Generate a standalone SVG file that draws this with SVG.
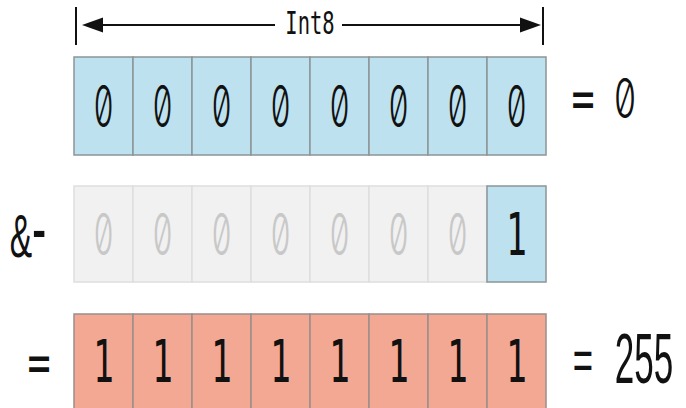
<svg xmlns="http://www.w3.org/2000/svg" width="686" height="408" viewBox="0 0 686 408">
<style>
.blue{fill:#bde1ee;stroke:#8c9598;stroke-width:1.5}
.gray{fill:#f1f1f1;stroke:#dedede;stroke-width:1.5}
.red{fill:#f3a893;stroke:#9a8f8c;stroke-width:1.5}
.dig{font-family:"DejaVu Sans Mono",monospace;font-size:58px;text-anchor:middle;fill:#111}
.zero{font-family:Inter,"DejaVu Sans Mono",monospace;font-size:58px;font-weight:300;text-anchor:middle;fill:#111;font-variant-numeric:slashed-zero;font-feature-settings:"zero" 1}
.dim{fill:#c8c8c8}
.lbl{font-family:"DejaVu Sans Mono",monospace;text-anchor:middle;fill:#111}
.sans{font-family:"Liberation Sans",Arial,sans-serif;text-anchor:middle;fill:#111}
.ln{stroke:#111;stroke-width:2;fill:none}
</style>
<g id="connectors">
<line class="ln" x1="76" y1="7" x2="76" y2="45"/>
<line class="ln" x1="543" y1="7" x2="543" y2="45"/>
<path d="M102,25 L275,25" class="ln"/>
<path d="M342,25 L520,25" class="ln"/>
<path d="M82,25 L103,17.5 L103,32.5 z" fill="#111"/>
<path d="M541,25 L520,17.5 L520,32.5 z" fill="#111"/>
</g>
<g id="label-int8">
<text class="lbl" style="font-size:32px" transform="translate(310,34) scale(0.64,1)">Int8</text>
</g>
<g id="row1">
<rect class="blue" x="74" y="57" width="59" height="98"/>
<rect class="blue" x="133" y="57" width="59" height="98"/>
<rect class="blue" x="192" y="57" width="59" height="98"/>
<rect class="blue" x="251" y="57" width="59" height="98"/>
<rect class="blue" x="310" y="57" width="59" height="98"/>
<rect class="blue" x="369" y="57" width="59" height="98"/>
<rect class="blue" x="428" y="57" width="59" height="98"/>
<rect class="blue" x="487" y="57" width="59" height="98"/>
<text class="zero" transform="translate(103.5,127) scale(0.55,1)">0</text>
<text class="zero" transform="translate(162.5,127) scale(0.55,1)">0</text>
<text class="zero" transform="translate(221.5,127) scale(0.55,1)">0</text>
<text class="zero" transform="translate(280.5,127) scale(0.55,1)">0</text>
<text class="zero" transform="translate(339.5,127) scale(0.55,1)">0</text>
<text class="zero" transform="translate(398.5,127) scale(0.55,1)">0</text>
<text class="zero" transform="translate(457.5,127) scale(0.55,1)">0</text>
<text class="zero" transform="translate(516.5,127) scale(0.55,1)">0</text>
</g>
<g id="result1">
<text class="lbl" style="font-size:55px" transform="translate(583,118) scale(0.7,1)">=</text>
<text class="zero" style="font-size:55px" transform="translate(625,118) scale(0.65,1)">0</text>
</g>
<g id="op">
<text class="sans" style="font-size:61px" transform="translate(28,257) scale(0.55,1)">&amp;<tspan dy="-2" style="font-size:78px">-</tspan></text>
</g>
<g id="row2">
<rect class="gray" x="74" y="186" width="59" height="96"/>
<rect class="gray" x="133" y="186" width="59" height="96"/>
<rect class="gray" x="192" y="186" width="59" height="96"/>
<rect class="gray" x="251" y="186" width="59" height="96"/>
<rect class="gray" x="310" y="186" width="59" height="96"/>
<rect class="gray" x="369" y="186" width="59" height="96"/>
<rect class="gray" x="428" y="186" width="59" height="96"/>
<rect class="blue" x="487" y="186" width="59" height="96"/>
<text class="zero dim" transform="translate(103.5,255) scale(0.55,1)">0</text>
<text class="zero dim" transform="translate(162.5,255) scale(0.55,1)">0</text>
<text class="zero dim" transform="translate(221.5,255) scale(0.55,1)">0</text>
<text class="zero dim" transform="translate(280.5,255) scale(0.55,1)">0</text>
<text class="zero dim" transform="translate(339.5,255) scale(0.55,1)">0</text>
<text class="zero dim" transform="translate(398.5,255) scale(0.55,1)">0</text>
<text class="zero dim" transform="translate(457.5,255) scale(0.55,1)">0</text>
<text class="dig" transform="translate(516.5,255) scale(0.6,1)">1</text>
</g>
<g id="eq">
<text class="lbl" style="font-size:55px" transform="translate(39,382) scale(0.7,1)">=</text>
</g>
<g id="row3">
<rect class="red" x="74" y="314" width="59" height="98"/>
<rect class="red" x="133" y="314" width="59" height="98"/>
<rect class="red" x="192" y="314" width="59" height="98"/>
<rect class="red" x="251" y="314" width="59" height="98"/>
<rect class="red" x="310" y="314" width="59" height="98"/>
<rect class="red" x="369" y="314" width="59" height="98"/>
<rect class="red" x="428" y="314" width="59" height="98"/>
<rect class="red" x="487" y="314" width="59" height="98"/>
<text class="dig" transform="translate(103.5,382) scale(0.6,1)">1</text>
<text class="dig" transform="translate(162.5,382) scale(0.6,1)">1</text>
<text class="dig" transform="translate(221.5,382) scale(0.6,1)">1</text>
<text class="dig" transform="translate(280.5,382) scale(0.6,1)">1</text>
<text class="dig" transform="translate(339.5,382) scale(0.6,1)">1</text>
<text class="dig" transform="translate(398.5,382) scale(0.6,1)">1</text>
<text class="dig" transform="translate(457.5,382) scale(0.6,1)">1</text>
<text class="dig" transform="translate(516.5,382) scale(0.6,1)">1</text>
</g>
<g id="result3">
<text class="sans" style="font-size:58px" transform="translate(583,380) scale(0.6,1)">=</text>
<text class="sans" style="font-size:70px" transform="translate(644,383) scale(0.5,1)">255</text>
</g>
</svg>
